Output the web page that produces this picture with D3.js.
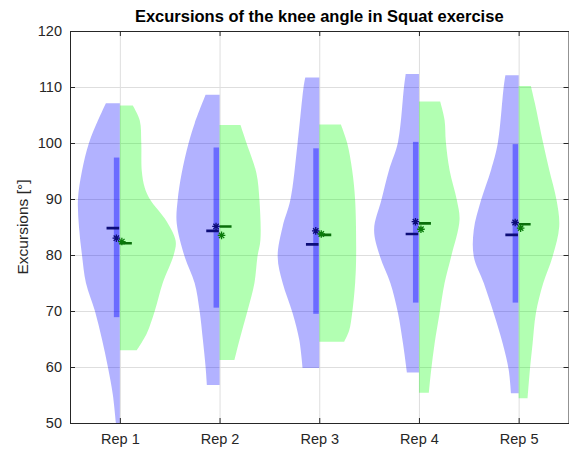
<!DOCTYPE html>
<html>
<head>
<meta charset="utf-8">
<script src="https://cdn.jsdelivr.net/npm/d3@7"></script>
<style>
  body { margin: 0; background: #fff; }
  text { font-family: "Liberation Sans", Arial, Helvetica, sans-serif; fill: #262626; }
</style>
</head>
<body>
<script>
// categories
var reps = ["Rep 1", "Rep 2", "Rep 3", "Rep 4", "Rep 5"];
var yTicks = [50, 60, 70, 80, 90, 100, 110, 120];

// density profiles [value, half width in category units], top to bottom
var blueDensity = [
  [[107.1,.14],[104,.22],[100,.31],[95,.38],[90,.42],[85,.41],[80,.38],[75,.34],[70,.25],[65,.18],[60,.12],[55,.07],[48,.03]],
  [[108.6,.14],[103.5,.25],[100,.31],[94.6,.38],[89.8,.42],[85.7,.43],[79.7,.35],[75,.25],[70,.20],[64.8,.167],[60,.14],[56.8,.127]],
  [[111.7,.14],[110,.157],[100,.217],[89.8,.29],[85.1,.367],[79.7,.417],[75,.367],[69.6,.267],[64.8,.20],[59.8,.167]],
  [[112.3,.133],[110,.15],[100.2,.21],[95.2,.30],[89.8,.377],[84.5,.45],[79.7,.39],[75,.287],[69.6,.21],[64.2,.16],[59,.12]],
  [[112.1,.133],[110,.15],[99.9,.21],[95.2,.277],[89.8,.377],[84.5,.45],[79.7,.45],[75,.35],[69.6,.25],[64.2,.16],[59.5,.10],[55.3,.077]]
];
var greenDensity = [
  [[106.7,.13],[104,.20],[100,.215],[95,.22],[92,.25],[90,.30],[86,.47],[82.5,.56],[80,.54],[75,.43],[70,.35],[66,.27],[63,.17]],
  [[103.2,.21],[100,.27],[94.6,.37],[89.8,.40],[82.7,.41],[79.7,.38],[75,.35],[70,.28],[64.8,.20],[61.25,.15]],
  [[103.3,.217],[100,.28],[95.2,.33],[89.8,.36],[79.7,.37],[75,.36],[69.6,.33],[66.5,.30],[64.5,.25]],
  [[107.4,.213],[104.1,.257],[100.2,.27],[95.2,.307],[89.8,.38],[86.25,.407],[79.7,.323],[75,.257],[69.6,.207],[64.2,.157],[59.5,.123],[55.4,.10]],
  [[110.2,.123],[107.1,.163],[99.9,.247],[95.2,.307],[89.8,.38],[85.1,.407],[79.7,.34],[75,.247],[69.6,.173],[64.2,.14],[59.5,.113],[54.4,.09]]
];

// interquartile range of the blue group
var blueQ1 = [68.9, 70.6, 69.5, 71.5, 71.5];
var blueQ3 = [97.4, 99.2, 99.05, 100.2, 99.8];

// summary markers
var blueMean = [84.8, 84.3, 81.9, 83.75, 83.6];
var blueMedian = [83.0, 85.1, 84.3, 85.95, 85.8];
var greenMean = [82.1, 85.1, 83.6, 85.65, 85.5];
var greenMedian = [82.4, 83.5, 83.75, 84.6, 84.8];

var W = 569, H = 450;
var pLeft = 70, pRight = 568.5, pTop = 31, pBottom = 423;

var svg = d3.select("body").append("svg")
  .attr("width", W)
  .attr("height", H);

var x = d3.scaleLinear().domain([0.5, 5.5]).range([pLeft, pRight]);
var y = d3.scaleLinear().domain([50, 120]).range([pBottom, pTop]);
var xPos = function(i) { return x(i + 1); };
var unit = x(1) - x(0);

svg.append("defs").append("clipPath").attr("id", "plot")
  .append("rect")
  .attr("x", pLeft).attr("y", pTop)
  .attr("width", pRight - pLeft).attr("height", pBottom - pTop);

// grid
svg.append("g")
  .attr("class", "grid")
  .attr("transform", "translate(0," + pBottom + ")")
  .call(d3.axisBottom(x).tickValues([1, 2, 3, 4, 5]).tickSize(-(pBottom - pTop)).tickFormat(""));
svg.append("g")
  .attr("class", "grid")
  .attr("transform", "translate(" + pLeft + ",0)")
  .call(d3.axisLeft(y).tickValues(yTicks).tickSize(-(pRight - pLeft)).tickFormat(""));
svg.selectAll(".grid .domain").remove();
svg.selectAll(".grid line").attr("stroke", "#dedede");

// violins
var plot = svg.append("g").attr("clip-path", "url(#plot)");

function halfArea(i, side) {
  return d3.area()
    .curve(d3.curveCatmullRom)
    .y(function(d) { return y(d[0]); })
    .x0(xPos(i))
    .x1(function(d) { return xPos(i) + side * d[1] * unit; });
}

plot.selectAll(".vb")
  .data(blueDensity)
  .enter().append("path")
  .attr("class", "vb")
  .attr("d", function(d, i) { return halfArea(i, -1)(d); })
  .attr("fill", "#0000ff")
  .attr("fill-opacity", 0.3);

plot.selectAll(".vg")
  .data(greenDensity)
  .enter().append("path")
  .attr("class", "vg")
  .attr("d", function(d, i) { return halfArea(i, 1)(d); })
  .attr("fill", "#00ff00")
  .attr("fill-opacity", 0.3);

// IQR bars
plot.selectAll(".iqr")
  .data(reps)
  .enter().append("rect")
  .attr("class", "iqr")
  .attr("x", function(d, i) { return xPos(i) - 6; })
  .attr("width", 5.5)
  .attr("y", function(d, i) { return y(blueQ3[i]); })
  .attr("height", function(d, i) { return y(blueQ1[i]) - y(blueQ3[i]); })
  .attr("fill", "#0000ff")
  .attr("fill-opacity", 0.4);

// mean dashes
plot.selectAll(".mb")
  .data(blueMean)
  .enter().append("line")
  .attr("x1", function(d, i) { return xPos(i) - 13.3; })
  .attr("x2", function(d, i) { return xPos(i) - 0.7; })
  .attr("y1", function(d) { return y(d); })
  .attr("y2", function(d) { return y(d); })
  .attr("stroke", "#0c0c78")
  .attr("stroke-width", 2.6);

plot.selectAll(".mg")
  .data(greenMean)
  .enter().append("line")
  .attr("x1", function(d, i) { return xPos(i); })
  .attr("x2", function(d, i) { return xPos(i) + 12; })
  .attr("y1", function(d) { return y(d); })
  .attr("y2", function(d) { return y(d); })
  .attr("stroke", "#0a6e0a")
  .attr("stroke-width", 2.6);

// asterisk markers
function star(r) {
  var k = r * 0.7071;
  return "M" + (-r) + ",0L" + r + ",0M0," + (-r) + "L0," + r +
    "M" + (-k) + "," + (-k) + "L" + k + "," + k +
    "M" + (-k) + "," + k + "L" + k + "," + (-k);
}

plot.selectAll(".sb")
  .data(blueMedian)
  .enter().append("path")
  .attr("d", star(3.8))
  .attr("transform", function(d, i) { return "translate(" + (xPos(i) - 3.5) + "," + y(d) + ")"; })
  .attr("fill", "none")
  .attr("stroke", "#0c0c78")
  .attr("stroke-width", 1.3);

plot.selectAll(".sg")
  .data(greenMedian)
  .enter().append("path")
  .attr("d", star(3.8))
  .attr("transform", function(d, i) { return "translate(" + (xPos(i) + 2) + "," + y(d) + ")"; })
  .attr("fill", "none")
  .attr("stroke", "#0a7a0a")
  .attr("stroke-width", 1.3);

// axes
var xAxis = svg.append("g")
  .attr("class", "ax")
  .attr("transform", "translate(0," + pBottom + ")")
  .call(d3.axisBottom(x).tickValues([1, 2, 3, 4, 5]).tickSizeInner(-5).tickSizeOuter(0).tickPadding(11)
    .tickFormat(function(d) { return reps[d - 1]; }));
var yAxis = svg.append("g")
  .attr("class", "ax")
  .attr("transform", "translate(" + pLeft + ",0)")
  .call(d3.axisLeft(y).tickValues(yTicks).tickSizeInner(-5).tickSizeOuter(0).tickPadding(8));
svg.append("g")
  .attr("class", "ax")
  .attr("transform", "translate(0," + pTop + ")")
  .call(d3.axisTop(x).tickValues([1, 2, 3, 4, 5]).tickSizeInner(-5).tickSizeOuter(0).tickFormat(""));
svg.append("g")
  .attr("class", "ax")
  .attr("transform", "translate(" + pRight + ",0)")
  .call(d3.axisRight(y).tickValues(yTicks).tickSizeInner(-5).tickSizeOuter(0).tickFormat(""));

svg.selectAll(".ax .domain, .ax .tick line").attr("stroke", "#262626");
xAxis.selectAll("text").style("font-size", "14.5px");
yAxis.selectAll("text").style("font-size", "14.5px");

// labels
svg.append("text")
  .attr("x", (pLeft + pRight) / 2)
  .attr("y", 22)
  .attr("text-anchor", "middle")
  .style("font-size", "16.5px")
  .style("font-weight", "bold")
  .style("fill", "#000")
  .text("Excursions of the knee angle in Squat exercise");

svg.append("text")
  .attr("transform", "translate(28," + ((pTop + pBottom) / 2) + ") rotate(-90)")
  .attr("text-anchor", "middle")
  .style("font-size", "15.5px")
  .text("Excursions [°]");
</script>
</body>
</html>
